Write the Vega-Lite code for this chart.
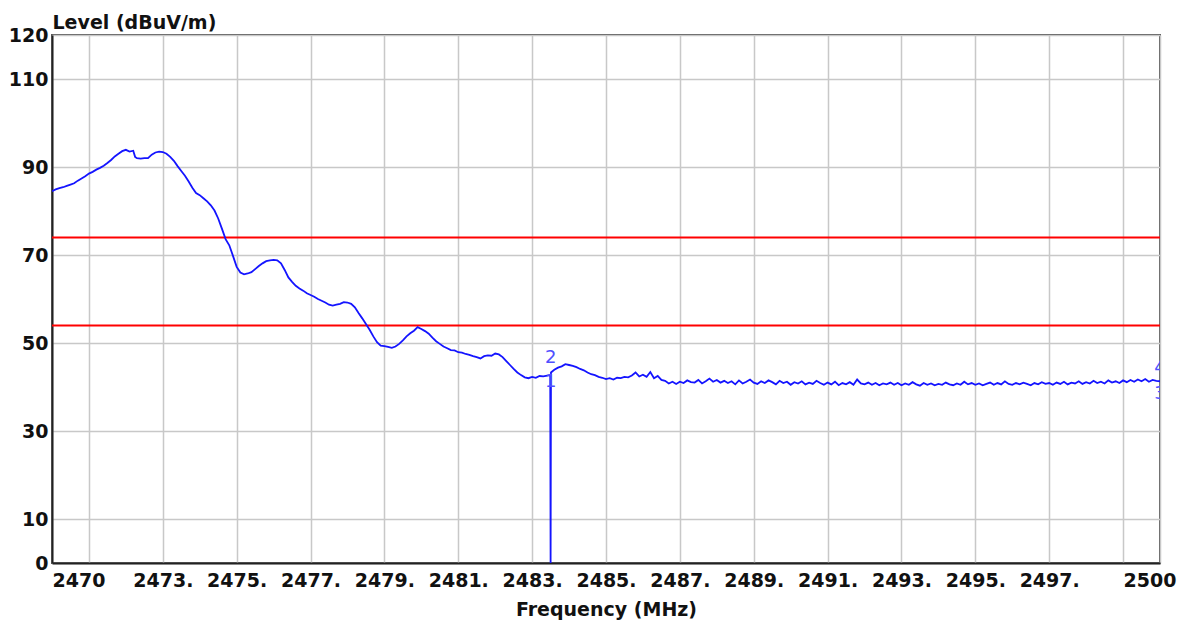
{
  "$schema": "https://vega.github.io/schema/vega-lite/v6.json",
  "width": 1108,
  "height": 528,
  "autosize": {"type": "none"},
  "padding": {"left": 52, "top": 35, "right": 27, "bottom": 61},
  "background": "white",
  "config": {"view": {"stroke": "#555", "strokeWidth": 2}, "font": "DejaVu Sans"},
  "datasets": {
    "trace": [
      {"f":2470.0,"v":84.5},{"f":2470.1,"v":84.9},{"f":2470.2,"v":85.2},{"f":2470.3,"v":85.4},{"f":2470.4,"v":85.7},
      {"f":2470.5,"v":86.0},{"f":2470.6,"v":86.3},{"f":2470.7,"v":86.9},{"f":2470.8,"v":87.4},{"f":2470.9,"v":87.9},
      {"f":2471.0,"v":88.5},{"f":2471.1,"v":88.9},{"f":2471.2,"v":89.4},{"f":2471.3,"v":89.8},{"f":2471.4,"v":90.3},
      {"f":2471.5,"v":90.9},{"f":2471.6,"v":91.6},{"f":2471.7,"v":92.4},{"f":2471.8,"v":93.0},{"f":2471.9,"v":93.6},
      {"f":2472.0,"v":93.9},{"f":2472.1,"v":93.5},{"f":2472.2,"v":93.7},{"f":2472.25,"v":92.3},{"f":2472.3,"v":92.0},
      {"f":2472.4,"v":91.9},{"f":2472.5,"v":92.0},{"f":2472.6,"v":92.0},{"f":2472.7,"v":92.8},{"f":2472.8,"v":93.3},
      {"f":2472.9,"v":93.5},{"f":2473.0,"v":93.4},{"f":2473.1,"v":93.0},{"f":2473.2,"v":92.3},{"f":2473.3,"v":91.4},
      {"f":2473.4,"v":90.2},{"f":2473.5,"v":89.1},{"f":2473.6,"v":88.0},{"f":2473.7,"v":86.7},{"f":2473.8,"v":85.3},
      {"f":2473.9,"v":84.1},{"f":2474.0,"v":83.6},{"f":2474.1,"v":82.9},{"f":2474.2,"v":82.2},{"f":2474.3,"v":81.3},
      {"f":2474.4,"v":80.1},{"f":2474.5,"v":78.3},{"f":2474.6,"v":76.0},{"f":2474.7,"v":73.6},{"f":2474.8,"v":72.2},
      {"f":2474.9,"v":69.8},{"f":2475.0,"v":67.3},{"f":2475.1,"v":66.0},{"f":2475.2,"v":65.6},{"f":2475.3,"v":65.8},
      {"f":2475.4,"v":66.1},{"f":2475.5,"v":66.8},{"f":2475.6,"v":67.5},{"f":2475.7,"v":68.1},{"f":2475.8,"v":68.6},
      {"f":2475.9,"v":68.8},{"f":2476.0,"v":68.9},{"f":2476.1,"v":68.8},{"f":2476.2,"v":68.1},{"f":2476.3,"v":66.6},
      {"f":2476.4,"v":64.9},{"f":2476.5,"v":63.9},{"f":2476.6,"v":63.0},{"f":2476.7,"v":62.4},{"f":2476.8,"v":61.9},
      {"f":2476.9,"v":61.3},{"f":2477.0,"v":60.9},{"f":2477.1,"v":60.5},{"f":2477.2,"v":60.0},{"f":2477.3,"v":59.6},
      {"f":2477.4,"v":59.2},{"f":2477.5,"v":58.7},{"f":2477.6,"v":58.5},{"f":2477.7,"v":58.7},{"f":2477.8,"v":58.9},
      {"f":2477.9,"v":59.3},{"f":2478.0,"v":59.2},{"f":2478.1,"v":58.9},{"f":2478.2,"v":58.1},{"f":2478.3,"v":56.8},
      {"f":2478.4,"v":55.6},{"f":2478.5,"v":54.3},{"f":2478.6,"v":53.0},{"f":2478.7,"v":51.5},{"f":2478.8,"v":50.2},
      {"f":2478.9,"v":49.4},{"f":2479.0,"v":49.3},{"f":2479.1,"v":49.1},{"f":2479.2,"v":48.9},{"f":2479.3,"v":49.2},
      {"f":2479.4,"v":49.8},{"f":2479.5,"v":50.6},{"f":2479.6,"v":51.5},{"f":2479.7,"v":52.2},{"f":2479.8,"v":52.8},
      {"f":2479.9,"v":53.6},{"f":2480.0,"v":53.2},{"f":2480.1,"v":52.7},{"f":2480.2,"v":52.1},{"f":2480.3,"v":51.2},
      {"f":2480.4,"v":50.4},{"f":2480.5,"v":49.8},{"f":2480.6,"v":49.2},{"f":2480.7,"v":48.8},{"f":2480.8,"v":48.4},
      {"f":2480.9,"v":48.3},{"f":2481.0,"v":47.9},{"f":2481.1,"v":47.8},{"f":2481.2,"v":47.5},{"f":2481.3,"v":47.3},
      {"f":2481.4,"v":47.0},{"f":2481.5,"v":46.8},{"f":2481.6,"v":46.5},{"f":2481.7,"v":47.0},{"f":2481.8,"v":47.2},
      {"f":2481.9,"v":47.1},{"f":2482.0,"v":47.6},{"f":2482.1,"v":47.4},{"f":2482.2,"v":46.8},{"f":2482.3,"v":45.9},
      {"f":2482.4,"v":45.0},{"f":2482.5,"v":44.1},{"f":2482.6,"v":43.3},{"f":2482.7,"v":42.7},{"f":2482.8,"v":42.2},
      {"f":2482.9,"v":42.0},{"f":2483.0,"v":42.3},{"f":2483.1,"v":42.1},{"f":2483.2,"v":42.5},{"f":2483.3,"v":42.4},
      {"f":2483.49,"v":42.7},{"f":2483.5,"v":0},{"f":2483.51,"v":43.3},{"f":2483.6,"v":43.9},
      {"f":2483.7,"v":44.4},{"f":2483.8,"v":44.7},{"f":2483.9,"v":45.2},{"f":2484.0,"v":45.0},{"f":2484.1,"v":44.8},
      {"f":2484.2,"v":44.5},{"f":2484.3,"v":44.1},{"f":2484.4,"v":43.8},{"f":2484.5,"v":43.3},{"f":2484.6,"v":42.9},
      {"f":2484.7,"v":42.7},{"f":2484.8,"v":42.3},{"f":2484.9,"v":42.1},{"f":2485.0,"v":41.8},{"f":2485.1,"v":42.0},
      {"f":2485.2,"v":41.7},{"f":2485.3,"v":42.1},{"f":2485.4,"v":42.0},{"f":2485.5,"v":42.3},{"f":2485.6,"v":42.2},
      {"f":2485.7,"v":42.6},{"f":2485.8,"v":43.3},{"f":2485.9,"v":42.4},{"f":2486.0,"v":42.8},{"f":2486.1,"v":42.3},
      {"f":2486.2,"v":43.4},{"f":2486.3,"v":42.0},{"f":2486.4,"v":42.5},{"f":2486.5,"v":41.6},{"f":2486.6,"v":41.4},
      {"f":2486.7,"v":40.8},{"f":2486.8,"v":41.2},{"f":2486.9,"v":40.7},{"f":2487.0,"v":41.2},{"f":2487.1,"v":40.9},
      {"f":2487.2,"v":41.5},{"f":2487.3,"v":41.1},{"f":2487.4,"v":41.0},{"f":2487.5,"v":41.6},{"f":2487.6,"v":40.8},
      {"f":2487.7,"v":41.3},{"f":2487.8,"v":41.9},{"f":2487.9,"v":41.2},{"f":2488.0,"v":41.6},{"f":2488.1,"v":41.0},
      {"f":2488.2,"v":41.4},{"f":2488.3,"v":40.9},{"f":2488.4,"v":41.3},{"f":2488.5,"v":40.6},{"f":2488.6,"v":41.5},
      {"f":2488.7,"v":40.8},{"f":2488.8,"v":41.2},{"f":2488.9,"v":41.7},{"f":2489.0,"v":41.0},{"f":2489.1,"v":40.7},
      {"f":2489.2,"v":41.3},{"f":2489.3,"v":40.9},{"f":2489.4,"v":41.5},{"f":2489.5,"v":41.1},{"f":2489.6,"v":40.6},
      {"f":2489.7,"v":41.4},{"f":2489.8,"v":40.9},{"f":2489.9,"v":41.2},{"f":2490.0,"v":40.5},{"f":2490.1,"v":41.1},
      {"f":2490.2,"v":40.8},{"f":2490.3,"v":41.3},{"f":2490.4,"v":40.6},{"f":2490.5,"v":41.0},{"f":2490.6,"v":40.7},
      {"f":2490.7,"v":41.4},{"f":2490.8,"v":40.9},{"f":2490.9,"v":40.5},{"f":2491.0,"v":41.0},{"f":2491.1,"v":40.6},
      {"f":2491.2,"v":41.2},{"f":2491.3,"v":40.4},{"f":2491.4,"v":40.9},{"f":2491.5,"v":40.6},{"f":2491.6,"v":41.1},
      {"f":2491.7,"v":40.5},{"f":2491.8,"v":41.7},{"f":2491.9,"v":40.8},{"f":2492.0,"v":40.6},{"f":2492.1,"v":41.0},
      {"f":2492.2,"v":40.5},{"f":2492.3,"v":40.9},{"f":2492.4,"v":40.4},{"f":2492.5,"v":40.8},{"f":2492.6,"v":40.6},
      {"f":2492.7,"v":41.0},{"f":2492.8,"v":40.5},{"f":2492.9,"v":40.9},{"f":2493.0,"v":40.4},{"f":2493.1,"v":40.8},
      {"f":2493.2,"v":40.5},{"f":2493.3,"v":41.1},{"f":2493.4,"v":40.6},{"f":2493.5,"v":40.3},{"f":2493.6,"v":40.9},
      {"f":2493.7,"v":40.5},{"f":2493.8,"v":40.8},{"f":2493.9,"v":40.4},{"f":2494.0,"v":40.7},{"f":2494.1,"v":40.5},
      {"f":2494.2,"v":41.0},{"f":2494.3,"v":40.6},{"f":2494.4,"v":40.4},{"f":2494.5,"v":40.8},{"f":2494.6,"v":40.5},
      {"f":2494.7,"v":41.2},{"f":2494.8,"v":40.6},{"f":2494.9,"v":40.9},{"f":2495.0,"v":40.5},{"f":2495.1,"v":40.8},
      {"f":2495.2,"v":40.4},{"f":2495.3,"v":40.7},{"f":2495.4,"v":41.0},{"f":2495.5,"v":40.5},{"f":2495.6,"v":40.9},
      {"f":2495.7,"v":40.6},{"f":2495.8,"v":41.3},{"f":2495.9,"v":40.7},{"f":2496.0,"v":40.5},{"f":2496.1,"v":40.9},
      {"f":2496.2,"v":40.6},{"f":2496.3,"v":41.0},{"f":2496.4,"v":40.7},{"f":2496.5,"v":40.4},{"f":2496.6,"v":40.9},
      {"f":2496.7,"v":40.6},{"f":2496.8,"v":41.1},{"f":2496.9,"v":40.7},{"f":2497.0,"v":40.9},{"f":2497.1,"v":40.5},
      {"f":2497.2,"v":41.0},{"f":2497.3,"v":40.7},{"f":2497.4,"v":41.2},{"f":2497.5,"v":40.6},{"f":2497.6,"v":41.0},
      {"f":2497.7,"v":40.8},{"f":2497.8,"v":41.3},{"f":2497.9,"v":40.7},{"f":2498.0,"v":41.1},{"f":2498.1,"v":40.8},
      {"f":2498.2,"v":41.4},{"f":2498.3,"v":40.9},{"f":2498.4,"v":41.2},{"f":2498.5,"v":40.8},{"f":2498.6,"v":41.5},
      {"f":2498.7,"v":41.0},{"f":2498.8,"v":41.3},{"f":2498.9,"v":40.9},{"f":2499.0,"v":41.5},{"f":2499.1,"v":41.1},
      {"f":2499.2,"v":41.6},{"f":2499.3,"v":41.2},{"f":2499.4,"v":41.7},{"f":2499.5,"v":41.3},{"f":2499.6,"v":41.8},
      {"f":2499.7,"v":41.2},{"f":2499.8,"v":41.6},{"f":2499.9,"v":41.4},{"f":2500.0,"v":41.3}
    ],
    "limits": [
      {"f":2470,"v":74,"g":"peak"},{"f":2500,"v":74,"g":"peak"},
      {"f":2470,"v":54,"g":"avg"},{"f":2500,"v":54,"g":"avg"}
    ],
    "markers": [
      {"f":2483.5,"v":46.5,"t":"2"},
      {"f":2483.5,"v":41.2,"t":"1"},
      {"f":2500,"v":44.3,"t":"4"},
      {"f":2500,"v":38.3,"t":"3"}
    ]
  },
  "encoding": {
    "x": {
      "field": "f", "type": "quantitative",
      "scale": {"domain": [2470, 2500], "nice": false, "zero": false},
      "axis": {
        "values": [2470,2471,2473,2475,2477,2479,2481,2483,2485,2487,2489,2491,2493,2495,2497,2499,2500],
        "labelExpr": "datum.value == 2470 ? '2470' : datum.value == 2500 ? '2500' : (datum.value == 2471 || datum.value == 2499) ? '' : datum.value + '.'",
        "title": "Frequency (MHz)",
        "ticks": false,
        "labelPadding": 8,
        "labelFont": "DejaVu Sans", "labelFontWeight": "bold", "labelFontSize": 19, "labelColor": "#111",
        "titleFont": "DejaVu Sans", "titleFontWeight": "bold", "titleFontSize": 19, "titleColor": "#111",
        "titlePadding": 10,
        "gridColor": "#c8c8c8", "gridWidth": 1.5, "gridOpacity": 1,
        "domainColor": "#222", "domainWidth": 2,
        "labelOverlap": false, "labelFlush": true,
        "labelOffset": {"condition": {"test": "datum.value >= 2500", "value": 16}, "value": 0}
      }
    },
    "y": {
      "field": "v", "type": "quantitative",
      "scale": {"domain": [0, 120], "nice": false},
      "axis": {
        "values": [0,10,30,50,70,90,110,120],
        "title": "Level (dBuV/m)",
        "titleAngle": 0, "titleAlign": "left", "titleBaseline": "alphabetic",
        "titleX": 0, "titleY": -7,
        "ticks": false,
        "labelPadding": 4,
        "labelFont": "DejaVu Sans", "labelFontWeight": "bold", "labelFontSize": 19, "labelColor": "#111",
        "titleFont": "DejaVu Sans", "titleFontWeight": "bold", "titleFontSize": 19, "titleColor": "#111",
        "gridColor": "#c8c8c8", "gridWidth": 1.5, "gridOpacity": 1,
        "domainColor": "#222", "domainWidth": 2,
        "labelOverlap": false
      }
    }
  },
  "layer": [
    {
      "data": {"name": "limits"},
      "mark": {"type": "line", "color": "#ff0000", "strokeWidth": 2},
      "encoding": {"detail": {"field": "g", "type": "nominal"}}
    },
    {
      "data": {"name": "trace"},
      "mark": {"type": "line", "color": "#1414ff", "strokeWidth": 1.8, "clip": true},
      "encoding": {}
    },
    {
      "data": {"name": "markers"},
      "mark": {"type": "text", "color": "#5050ff", "fontSize": 18, "font": "DejaVu Sans", "baseline": "middle", "align": "center", "clip": true},
      "encoding": {"text": {"field": "t", "type": "nominal"}}
    }
  ]
}
